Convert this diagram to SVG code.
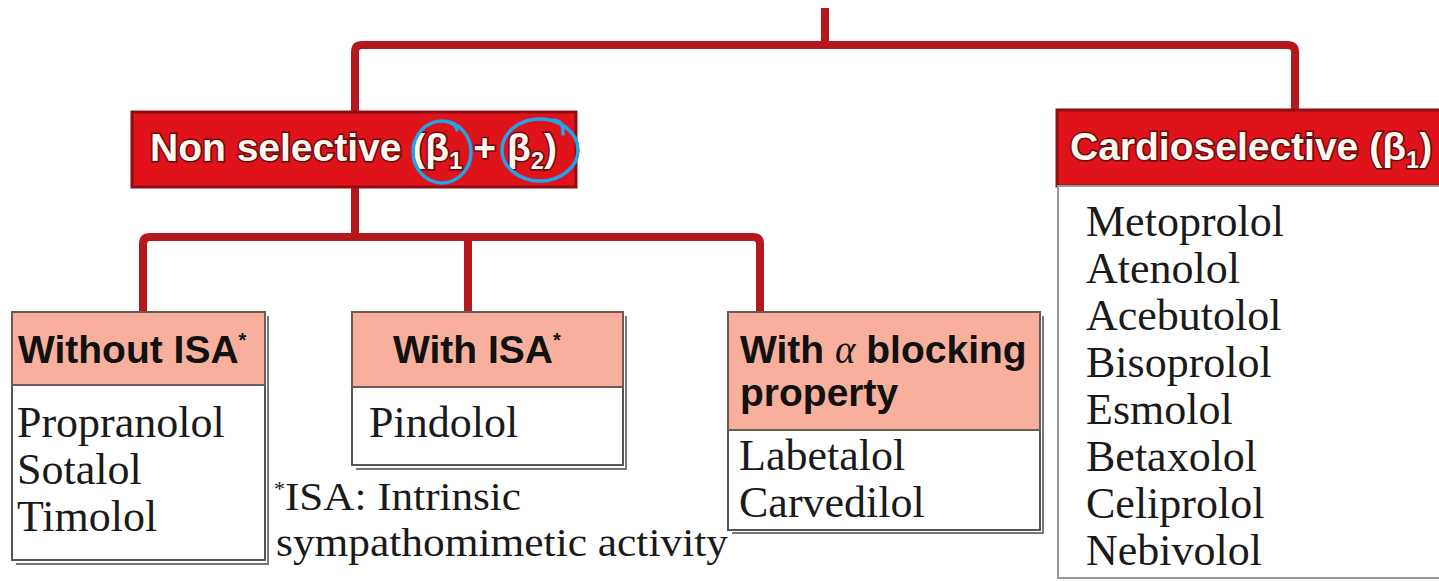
<svg xmlns="http://www.w3.org/2000/svg" width="1439" height="581" viewBox="0 0 1439 581">
<style>
.conn{fill:none;stroke:#b5171c;stroke-width:8;stroke-linejoin:round}
.redbox{fill:#e0121a;stroke:#8e0f12;stroke-width:3}
.hdr{fill:#f8b09c;stroke:#6b5a55;stroke-width:2}
.body{fill:#fff;stroke:#555;stroke-width:2}
.shadow{fill:none;stroke:#777;stroke-width:2}
.wt{font-family:"Liberation Sans",Arial,sans-serif;font-weight:bold;font-size:39px;fill:#fff8f0;stroke:#6a0a0a;stroke-width:3;paint-order:stroke}
.ht{font-family:"Liberation Sans",Arial,sans-serif;font-weight:bold;font-size:39px;fill:#111}
.dt{font-family:"Liberation Serif","Times New Roman",serif;font-size:44px;fill:#1a1a1a}
.sub{font-size:24px}
.ann{fill:none;stroke:#1ea4ea;stroke-width:3.5;stroke-linecap:round}
</style>
<g id="connectors">
<path class="conn" d="M825 8 V45"/>
<path class="conn" d="M355 112 V52 Q355 45 362 45 H1287 Q1295 45 1295 52 V110"/>
<path class="conn" d="M355 187 V237"/>
<path class="conn" d="M143 312 V244 Q143 237 150 237 H753 Q760 237 760 244 V312"/>
<path class="conn" d="M468 237 V312"/>
</g>
<g id="nonselective">
<rect class="redbox" x="132" y="112" width="444" height="75"/>
<text class="wt" x="150" y="161">Non selective (β<tspan class="sub" dy="8">1</tspan><tspan dy="-8"> + β</tspan><tspan class="sub" dy="8">2</tspan><tspan dy="-8">)</tspan></text>
<ellipse class="ann" cx="442" cy="152" rx="29" ry="31"/>
<path class="ann" d="M448 122 Q456 124 457 130"/>
<ellipse class="ann" cx="540" cy="150" rx="38" ry="31"/>
<path class="ann" d="M554 120 Q564 121 563 134"/>
</g>
<g id="cardioselective">
<rect class="redbox" x="1057" y="110" width="395" height="76"/>
<text class="wt" x="1070" y="160">Cardioselective (β<tspan class="sub" dy="8">1</tspan><tspan dy="-8">)</tspan></text>
<rect class="body" x="1058" y="186" width="395" height="392" style="stroke:#999"/>
<text class="dt" x="1086" y="236">Metoprolol</text>
<text class="dt" x="1086" y="283">Atenolol</text>
<text class="dt" x="1086" y="330">Acebutolol</text>
<text class="dt" x="1086" y="377">Bisoprolol</text>
<text class="dt" x="1086" y="424">Esmolol</text>
<text class="dt" x="1086" y="471">Betaxolol</text>
<text class="dt" x="1086" y="518">Celiprolol</text>
<text class="dt" x="1086" y="565">Nebivolol</text>
</g>
<g id="without-isa">
<path class="shadow" d="M268 316 V564 H16"/>
<rect class="body" x="12" y="385" width="253" height="175"/>
<rect class="hdr" x="12" y="312" width="253" height="73"/>
<text class="ht" x="18" y="363">Without ISA<tspan font-size="20" dy="-16">*</tspan></text>
<text class="dt" x="17" y="437">Propranolol</text>
<text class="dt" x="17" y="484">Sotalol</text>
<text class="dt" x="17" y="531">Timolol</text>
</g>
<g id="with-isa">
<path class="shadow" d="M626 316 V469 H356"/>
<rect class="body" x="352" y="387" width="271" height="78"/>
<rect class="hdr" x="352" y="312" width="271" height="75"/>
<text class="ht" x="393" y="363">With ISA<tspan font-size="20" dy="-16">*</tspan></text>
<text class="dt" x="369" y="437">Pindolol</text>
</g>
<g id="with-alpha">
<path class="shadow" d="M1043 316 V533 H732"/>
<rect class="body" x="728" y="430" width="312" height="100"/>
<rect class="hdr" x="728" y="312" width="312" height="118"/>
<text class="ht" x="740" y="363">With <tspan font-family="Liberation Serif,serif" font-style="italic" font-weight="normal">α</tspan> blocking</text>
<text class="ht" x="740" y="406">property</text>
<text class="dt" x="739" y="470">Labetalol</text>
<text class="dt" x="739" y="517">Carvedilol</text>
</g>
<g id="footnote">
<text class="dt" x="274" y="510" style="font-size:40px"><tspan font-size="22" dy="-14">*</tspan><tspan dy="14" textLength="236" lengthAdjust="spacingAndGlyphs">ISA: Intrinsic</tspan></text>
<text class="dt" x="276" y="556" style="font-size:40px" textLength="452" lengthAdjust="spacingAndGlyphs">sympathomimetic activity</text>
</g>
</svg>
